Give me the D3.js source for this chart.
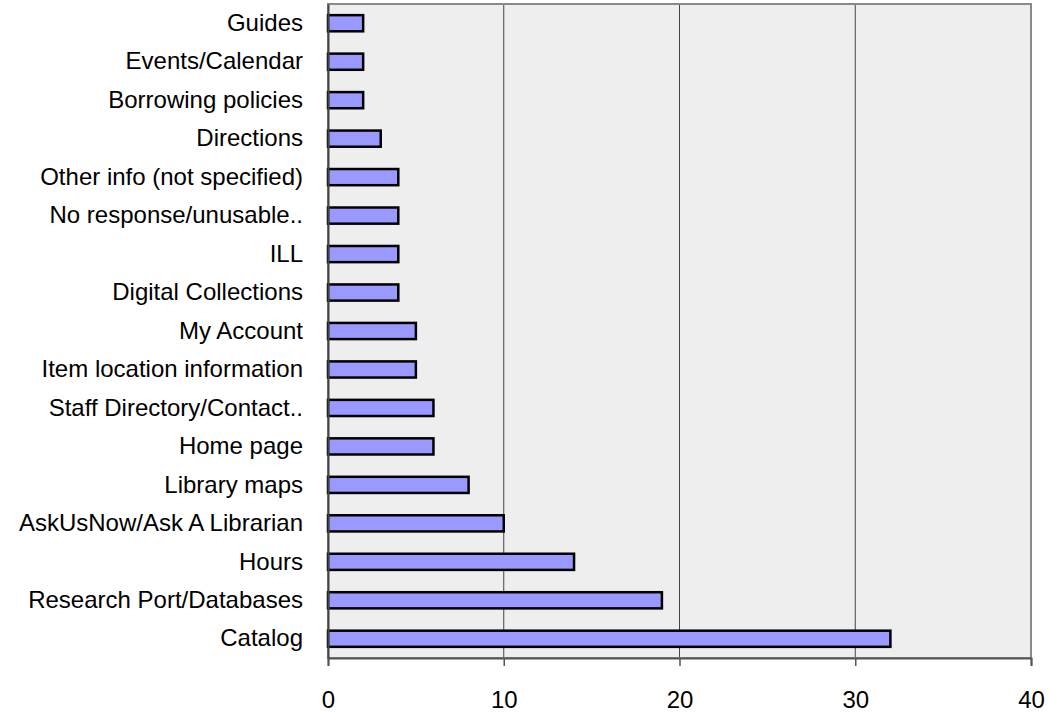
<!DOCTYPE html>
<html><head><meta charset="utf-8">
<script src="https://cdn.jsdelivr.net/npm/d3@7"></script>
<style>body{margin:0;background:#fff}svg{display:block}</style>
</head><body>
<svg id="c" width="1050" height="713"></svg>
<script>
const categories = ["Guides","Events/Calendar","Borrowing policies","Directions","Other info (not specified)","No response/unusable..","ILL","Digital Collections","My Account","Item location information","Staff Directory/Contact..","Home page","Library maps","AskUsNow/Ask A Librarian","Hours","Research Port/Databases","Catalog"];
const values = [2,2,2,3,4,4,4,4,5,5,6,6,8,10,14,19,32];
const xTicks = [0,10,20,30,40];

const svg = d3.select("#c");
const L=328, R=1031, T=4, B=658;
const x = d3.scaleLinear().domain([0,40]).range([L,R]);
const y = d3.scaleBand().domain(categories).range([T,B]).paddingInner(0.58).paddingOuter(0.29);

svg.append("rect").attr("x",L).attr("y",T).attr("width",R-L).attr("height",B-T).attr("fill","#eeeeee");
svg.append("g").selectAll("line").data(xTicks.slice(1,-1)).join("line")
  .attr("x1",d=>x(d)).attr("x2",d=>x(d)).attr("y1",T).attr("y2",B)
  .attr("stroke","#444").attr("stroke-width",1);
svg.append("rect").attr("x",L).attr("y",T).attr("width",R-L).attr("height",B-T)
  .attr("fill","none").attr("stroke","#888").attr("stroke-width",2);

svg.append("g").selectAll("rect").data(values).join("rect")
  .attr("x",x(0)).attr("y",(d,i)=>y(categories[i]))
  .attr("width",d=>x(d)-x(0)).attr("height",y.bandwidth())
  .attr("fill","#9999ff").attr("stroke","#000").attr("stroke-width",2.5);

const xa = svg.append("g").attr("transform",`translate(0,${B})`)
  .call(d3.axisBottom(x).tickValues(xTicks).tickSize(8).tickPadding(25));
xa.select(".domain").attr("stroke","#555").attr("stroke-width",2);
xa.selectAll(".tick line").attr("stroke","#555").attr("stroke-width",1.5);
xa.selectAll("text").attr("font-family","Liberation Sans, Arial, sans-serif").attr("font-size",24).attr("fill","#000");

const ya = svg.append("g").attr("transform",`translate(${L},0)`)
  .call(d3.axisLeft(y).tickSize(0).tickPadding(25));
ya.select(".domain").attr("stroke","#444").attr("stroke-width",2);
ya.selectAll("text").attr("font-family","Liberation Sans, Arial, sans-serif").attr("font-size",24).attr("fill","#000");
</script>
</body></html>
